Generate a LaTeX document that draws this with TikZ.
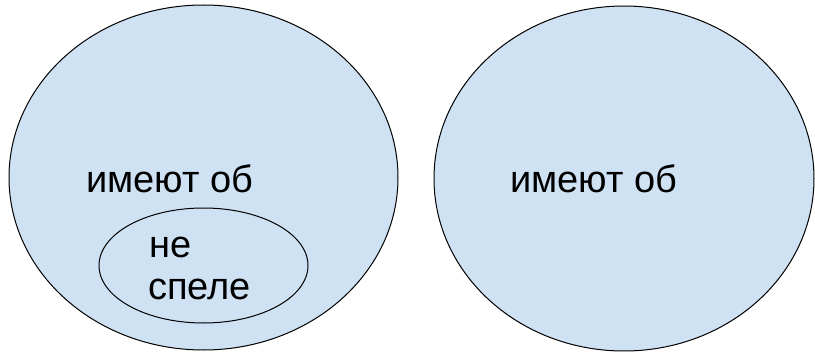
\documentclass[tikz,border=0pt]{standalone}
\usepackage{fontspec}
\setmainfont{Liberation Sans}
\usepackage{tikz}
\usetikzlibrary{shapes.geometric}
\usepackage{xcolor}
\definecolor{setfill}{HTML}{CFE2F3}

\begin{document}
\begin{tikzpicture}[x=1pt, y=-1pt,
  set/.style={ellipse, draw=black, fill=setfill, line width=1pt, inner sep=0pt},
  lbl/.style={anchor=base west, inner sep=0pt, font=\fontsize{38}{44}\selectfont}]

  \useasboundingbox (0, 0) rectangle (815, 353);

  % Left set with the inner subset
  \node[set, minimum width=389pt, minimum height=345pt] (left) at (203.5, 177.5) {};
  \node[lbl] (lefttext) at (86, 193) {имеют об};
  \node[set, minimum width=209pt, minimum height=115pt] (inner) at (203.5, 265.5) {};
  \node[lbl] (innertop) at (149, 257) {не};
  \node[lbl] (innerbot) at (148, 299) {спеле};

  % Right set
  \node[set, minimum width=380pt, minimum height=345pt] (right) at (624, 178.5) {};
  \node[lbl] (righttext) at (510, 193) {имеют об};

\end{tikzpicture}
\end{document}
